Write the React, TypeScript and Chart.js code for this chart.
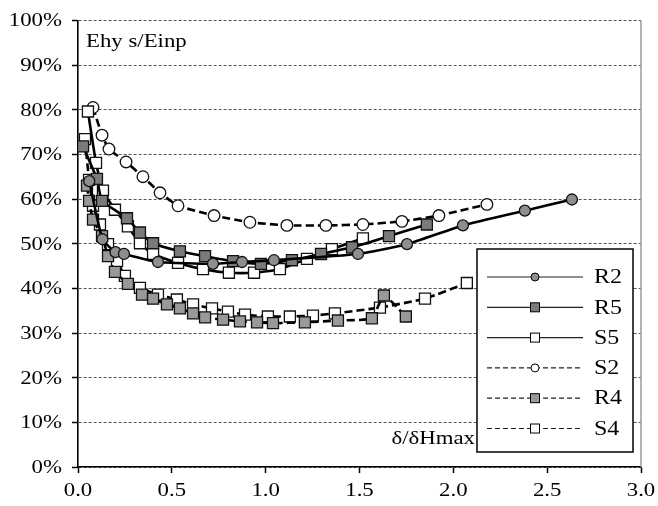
import React, { useEffect, useRef } from "react";
import { Chart, registerables } from "chart.js";

Chart.register(...registerables);

const xTicks = [0, 0.5, 1, 1.5, 2, 2.5, 3];
const yTicks = [0, 10, 20, 30, 40, 50, 60, 70, 80, 90, 100];

const seriesNames = ["R2", "R5", "S5", "S2", "R4", "S4"];

const r2X = [0.06, 0.13, 0.2, 0.245, 0.426, 0.719, 0.874, 1.044, 1.492, 1.753, 2.051, 2.381, 2.632];
const r2Y = [64, 51, 48.1, 47.7, 45.9, 45.5, 45.9, 46.3, 47.7, 49.9, 54.1, 57.4, 59.9];

const r5X = [0.027, 0.101, 0.128, 0.261, 0.33, 0.4, 0.543, 0.677, 0.826, 0.975, 1.14, 1.295, 1.46, 1.657, 1.859];
const r5Y = [71.8, 64.5, 59.6, 55.7, 52.5, 50.1, 48.3, 47.2, 46.1, 45.5, 46.3, 47.7, 49.2, 51.7, 54.3];

const s5X = [0.053, 0.096, 0.133, 0.197, 0.266, 0.33, 0.4, 0.533, 0.666, 0.804, 0.938, 1.076, 1.22, 1.353, 1.518];
const s5Y = [79.6, 68.1, 61.9, 57.6, 53.9, 50.1, 47.7, 45.7, 44.3, 43.5, 43.5, 44.3, 46.6, 48.8, 51.2];

const s2X = [0.08, 0.128, 0.165, 0.256, 0.346, 0.437, 0.533, 0.725, 0.916, 1.113, 1.321, 1.518, 1.726, 1.923, 2.179];
const s2Y = [80.5, 74.3, 71.2, 68.3, 65.0, 61.4, 58.5, 56.3, 54.8, 54.1, 54.1, 54.3, 55.0, 56.3, 58.8];

const r4X = [0.048, 0.059, 0.08, 0.128, 0.16, 0.197, 0.266, 0.341, 0.4, 0.474, 0.543, 0.613, 0.677, 0.773, 0.863, 0.954, 1.039, 1.209, 1.385, 1.566, 1.63, 1.747];
const r4Y = [63.0, 59.6, 55.4, 51.7, 47.2, 43.7, 41.0, 38.6, 37.7, 36.4, 35.5, 34.4, 33.5, 33.0, 32.6, 32.4, 32.2, 32.4, 32.8, 33.3, 38.4, 33.7];

const s4X = [0.037, 0.059, 0.08, 0.117, 0.16, 0.208, 0.25, 0.33, 0.426, 0.527, 0.613, 0.714, 0.799, 0.89, 1.012, 1.129, 1.252, 1.369, 1.609, 1.849, 2.072];
const s4Y = [73.4, 64.3, 58.5, 54.3, 49.9, 46.1, 42.8, 40.1, 38.6, 37.5, 36.4, 35.5, 34.8, 34.1, 33.7, 33.7, 33.9, 34.4, 35.7, 37.7, 41.2];

const yAxisLabel = "Ehy s/Einp";
const xAxisLabel = "δ/δHmax";

const toPoints = (xs: number[], ys: number[]) => xs.map((x, i) => ({ x, y: ys[i] }));

const SERIF = "'Liberation Serif', 'Times New Roman', serif";
const STRETCH = 1.2;

type Style = {
  dash: number[];
  shape: "circle" | "rect";
  fill: string;
  radius: number;
};

const styles: Style[] = [
  { dash: [], shape: "circle", fill: "#8e8e8e", radius: 5.5 },
  { dash: [], shape: "rect", fill: "#7a7a7a", radius: 7.8 },
  { dash: [], shape: "rect", fill: "#ffffff", radius: 7.8 },
  { dash: [8, 4], shape: "circle", fill: "#ffffff", radius: 5.8 },
  { dash: [8, 4], shape: "rect", fill: "#999999", radius: 7.8 },
  { dash: [8, 4], shape: "rect", fill: "#ffffff", radius: 7.8 },
];

// draw horizontally stretched text (the reference's serif text is wide)
function wideText(ctx: CanvasRenderingContext2D, text: string, x: number, y: number, align: "left" | "right" | "center", size: number) {
  ctx.save();
  ctx.font = `${size}px ${SERIF}`;
  ctx.textBaseline = "middle";
  ctx.textAlign = "left";
  const w = ctx.measureText(text).width * STRETCH;
  let left = x;
  if (align === "right") left = x - w;
  if (align === "center") left = x - w / 2;
  ctx.translate(left, y);
  ctx.scale(STRETCH, 1);
  ctx.fillStyle = "#000";
  ctx.fillText(text, 0, 0);
  ctx.restore();
}

const decorations = {
  id: "decorations",
  afterDraw(chart: any) {
    const { ctx, chartArea } = chart;
    const xs = chart.scales.x;
    const ys = chart.scales.y;
    ctx.save();
    // right border
    ctx.strokeStyle = "#9a9a9a";
    ctx.lineWidth = 1.5;
    ctx.beginPath();
    ctx.moveTo(chartArea.right, chartArea.top);
    ctx.lineTo(chartArea.right, chartArea.bottom);
    ctx.stroke();

    // tick labels
    yTicks.forEach((v) => {
      wideText(ctx, `${v}%`, 62, ys.getPixelForValue(v) + 1, "right", 19);
    });
    xTicks.forEach((v) => {
      wideText(ctx, v.toFixed(1), xs.getPixelForValue(v), 491, "center", 19);
    });

    // axis titles inside plot
    wideText(ctx, yAxisLabel, chartArea.left + 8, chartArea.top + 22, "left", 19);
    wideText(ctx, xAxisLabel, 475, chartArea.bottom - 28, "right", 19);

    // legend box
    const bx = 477, by = 249, bw = 156, bh = 203;
    ctx.fillStyle = "#fff";
    ctx.fillRect(bx, by, bw, bh);
    ctx.strokeStyle = "#000";
    ctx.lineWidth = 1.5;
    ctx.setLineDash([]);
    ctx.strokeRect(bx, by, bw, bh);

    seriesNames.forEach((name, i) => {
      const st = styles[i];
      const y = 277 + i * 30.3;
      ctx.strokeStyle = "#222";
      ctx.lineWidth = 1.2;
      ctx.setLineDash(st.dash.length ? [5, 3] : []);
      ctx.beginPath();
      ctx.moveTo(487, y);
      ctx.lineTo(583, y);
      ctx.stroke();
      ctx.setLineDash([]);
      ctx.fillStyle = st.fill;
      ctx.strokeStyle = "#000";
      ctx.lineWidth = 1;
      if (st.shape === "circle") {
        ctx.beginPath();
        ctx.arc(535, y, 4, 0, Math.PI * 2);
        ctx.fill();
        ctx.stroke();
      } else {
        ctx.fillRect(530.5, y - 4.5, 9, 9);
        ctx.strokeRect(530.5, y - 4.5, 9, 9);
      }
      wideText(ctx, name, 594, y + 1, "left", 20);
    });
    ctx.restore();
  },
};

export default function App() {
  const canvasRef = useRef<HTMLCanvasElement | null>(null);

  useEffect(() => {
    if (!canvasRef.current) return;
    const xs = [r2X, r5X, s5X, s2X, r4X, s4X];
    const ys = [r2Y, r5Y, s5Y, s2Y, r4Y, s4Y];
    const datasets = seriesNames.map((name, i) => ({
      label: name,
      data: toPoints(xs[i], ys[i]),
      showLine: true,
      borderColor: "#000",
      borderWidth: 2.6,
      borderDash: styles[i].dash,
      tension: 0.15,
      pointStyle: styles[i].shape,
      pointRadius: styles[i].radius,
      pointBackgroundColor: styles[i].fill,
      pointBorderColor: "#111",
      pointBorderWidth: 1.3,
    }));

    const chart = new Chart(canvasRef.current, {
      type: "scatter",
      data: { datasets },
      plugins: [decorations],
      options: {
        animation: false,
        responsive: false,
        devicePixelRatio: 1,
        layout: { padding: { top: 16, right: 17, left: 0, bottom: 0 } },
        plugins: {
          legend: { display: false },
          tooltip: { enabled: false },
        },
        scales: {
          x: {
            type: "linear",
            min: 0,
            max: 3,
            afterBuildTicks: (scale: any) => {
              scale.ticks = xTicks.map((v) => ({ value: v }));
            },
            afterFit: (scale: any) => {
              scale.height = 39;
            },
            ticks: {
              font: { family: SERIF, size: 19 },
              color: "rgba(0,0,0,0)",
              padding: 5,
              maxRotation: 0,
              callback: (v: any) => Number(v).toFixed(1),
            },
            grid: {
              display: true,
              drawOnChartArea: false,
              drawTicks: true,
              tickLength: 6,
              tickColor: "#000",
              tickWidth: 1.5,
            },
            border: { display: true, color: "#000", width: 1.6 },
          },
          y: {
            type: "linear",
            min: 0,
            max: 100,
            afterBuildTicks: (scale: any) => {
              scale.ticks = yTicks.map((v) => ({ value: v }));
            },
            ticks: {
              font: { family: SERIF, size: 19 },
              color: "rgba(0,0,0,0)",
              padding: 9,
              callback: (v: any) => `${v}%`,
            },
            afterFit: (scale: any) => {
              scale.width = 78;
            },
            grid: {
              display: true,
              drawOnChartArea: true,
              drawTicks: true,
              tickLength: 6,
              color: "#555",
              lineWidth: 1,
              tickColor: "#000",
              tickWidth: 1.5,
              tickBorderDash: [],
            },
            border: { display: true, color: "#000", width: 1.6, dash: [3, 2] },
          },
        },
      },
    } as any);
    return () => chart.destroy();
  }, []);

  return (
    <div style={{ position: "fixed", left: 0, top: 0, width: 658, height: 506, background: "#fff" }}>
      <canvas ref={canvasRef} width={658} height={506} style={{ width: 658, height: 506, display: "block" }} />
    </div>
  );
}
